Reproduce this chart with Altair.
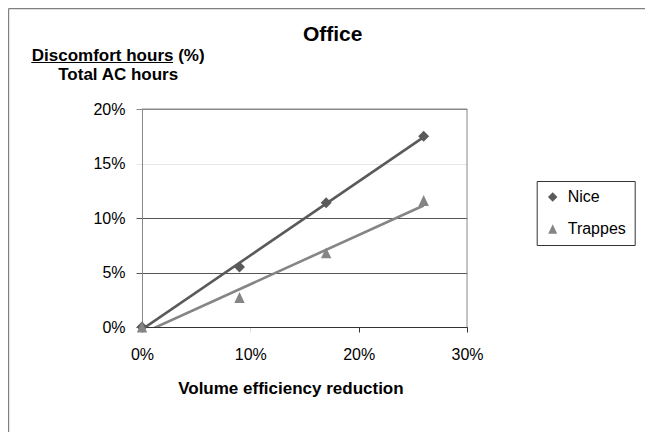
import altair as alt
import pandas as pd

# ---- data ----
reduction_pct = [0, 9, 17, 26]          # Volume efficiency reduction (%)
nice_pct = [0.0, 5.5, 11.4, 17.5]       # Discomfort hours / total AC hours (%)
trappes_pct = [0.0, 2.7, 6.8, 11.6]
series_names = ["Nice", "Trappes"]
y_tick_values = [0, 0.05, 0.10, 0.15, 0.20]
x_tick_values = [0, 0.10, 0.20, 0.30]

rows = []
for name, vals in zip(series_names, [nice_pct, trappes_pct]):
    for xv, yv in zip(reduction_pct, vals):
        rows.append({"series": name, "x": xv / 100.0, "y": yv / 100.0})
df = pd.DataFrame(rows)

FONT = "Liberation Sans"
W, H = 325, 218
PAD_L, PAD_T, PAD_R, PAD_B = 134, 101, 178, 105

color_scale = alt.Scale(domain=series_names, range=["#5a5a5a", "#858585"])
shape_scale = alt.Scale(domain=series_names, range=["diamond", "M0,-1L-0.95,1L0.95,1Z"])

y_cond = {
    "condition": [
        {"test": "abs(datum.value - 0.15) < 0.0001", "value": "#e6e6e6"},
        {"test": "datum.value > 0.19", "value": "#8a8a8a"},
    ],
    "value": "#555555",
}
x_cond = {
    "condition": [{"test": "abs(datum.value - 0.1) < 0.0001", "value": "#dddddd"}],
    "value": "#333333",
}

x_enc = alt.X(
    "x:Q",
    scale=alt.Scale(domain=[0, 0.3], nice=False, zero=True),
    axis=alt.Axis(
        values=x_tick_values, format=".0%", labelFontSize=16, labelColor="black",
        labelPadding=14, labelAngle=0, labelFlush=False, tickSize=5, tickColor=x_cond,
        grid=False, domainColor="#333333", title="Volume efficiency reduction",
        titleX=148.4, titleY=66, titleAlign="center", titleBaseline="alphabetic",
        titleFontSize=17, titleFontWeight="bold", titleColor="black",
    ),
)
y_enc = alt.Y(
    "y:Q",
    scale=alt.Scale(domain=[0, 0.2], nice=False, zero=True),
    axis=alt.Axis(
        values=y_tick_values, format=".0%", labelFontSize=16, labelColor="black",
        labelPadding=11, labelFlush=False, tickSize=6, tickColor=y_cond, grid=True,
        gridColor=y_cond, gridWidth=1, domainColor="#888888",
        title=["Discomfort hours (%)", "Total AC hours"], titleAngle=0,
        titleAlign="center", titleBaseline="alphabetic", titleX=-24.3, titleY=-49,
        titleFontSize=17, titleFontWeight="bold", titleLineHeight=19, titleColor="black",
    ),
)

legend = alt.Legend(
    orient="none", legendX=394.7, legendY=72, title=None, strokeColor="#333333",
    fillColor="white", padding=8, labelFontSize=16, labelColor="black",
    symbolSize=90, labelOffset=7, rowPadding=16, symbolStrokeWidth=0,
    symbolOpacity=1,
)

base = alt.Chart(df)

lines = base.transform_regression("x", "y", groupby=["series"]).mark_line(
    clip=True, strokeWidth=2.6
).encode(
    x=x_enc, y=y_enc,
    color=alt.Color("series:N", scale=color_scale, legend=None),
    detail="series:N",
)

points = base.mark_point(filled=True, opacity=1, size=120, strokeWidth=0).encode(
    x=x_enc, y=y_enc,
    color=alt.Color("series:N", scale=color_scale, legend=legend),
    shape=alt.Shape("series:N", scale=shape_scale, legend=legend),
)

one = alt.Data(values=[{"k": 1}])

title_text = alt.Chart(one).mark_text(
    text="Office", fontSize=21, fontWeight="bold", font=FONT, color="black",
    align="center", baseline="alphabetic",
).encode(x=alt.value(190.7), y=alt.value(-68.3))

underline = alt.Chart(one).mark_rule(color="black", strokeWidth=1.2).encode(
    x=alt.value(-110.7), x2=alt.value(31.0), y=alt.value(-46.5)
)

# outer frame of the figure: only top and left edges are visible in the picture
frame_top = alt.Chart(one).mark_rule(color="#808080", strokeWidth=1.2).encode(
    x=alt.value(-133.4), x2=alt.value(W + PAD_R), y=alt.value(-100.4)
)
frame_left = alt.Chart(one).mark_rule(color="#808080", strokeWidth=1.2).encode(
    x=alt.value(-133.4), y=alt.value(-100.4), y2=alt.value(H + PAD_B)
)
# plot-area border (top and right)
plot_top = alt.Chart(one).mark_rule(color="#888888", strokeWidth=1).encode(
    x=alt.value(0), x2=alt.value(W), y=alt.value(0)
)
plot_right = alt.Chart(one).mark_rule(color="#888888", strokeWidth=1).encode(
    x=alt.value(W), y=alt.value(0), y2=alt.value(H)
)

chart = alt.layer(
    frame_top, frame_left, plot_top, plot_right, lines, points, title_text, underline
).properties(
    width=W, height=H,
    padding={"left": PAD_L, "top": PAD_T, "right": PAD_R, "bottom": PAD_B},
    autosize=alt.AutoSizeParams(type="none"),
    background="white",
).resolve_legend(color="independent", shape="independent").configure(
    font=FONT
).configure_view(stroke="transparent", strokeWidth=0)

chart.save("out.html", embed_options={"renderer": "svg", "actions": False})
